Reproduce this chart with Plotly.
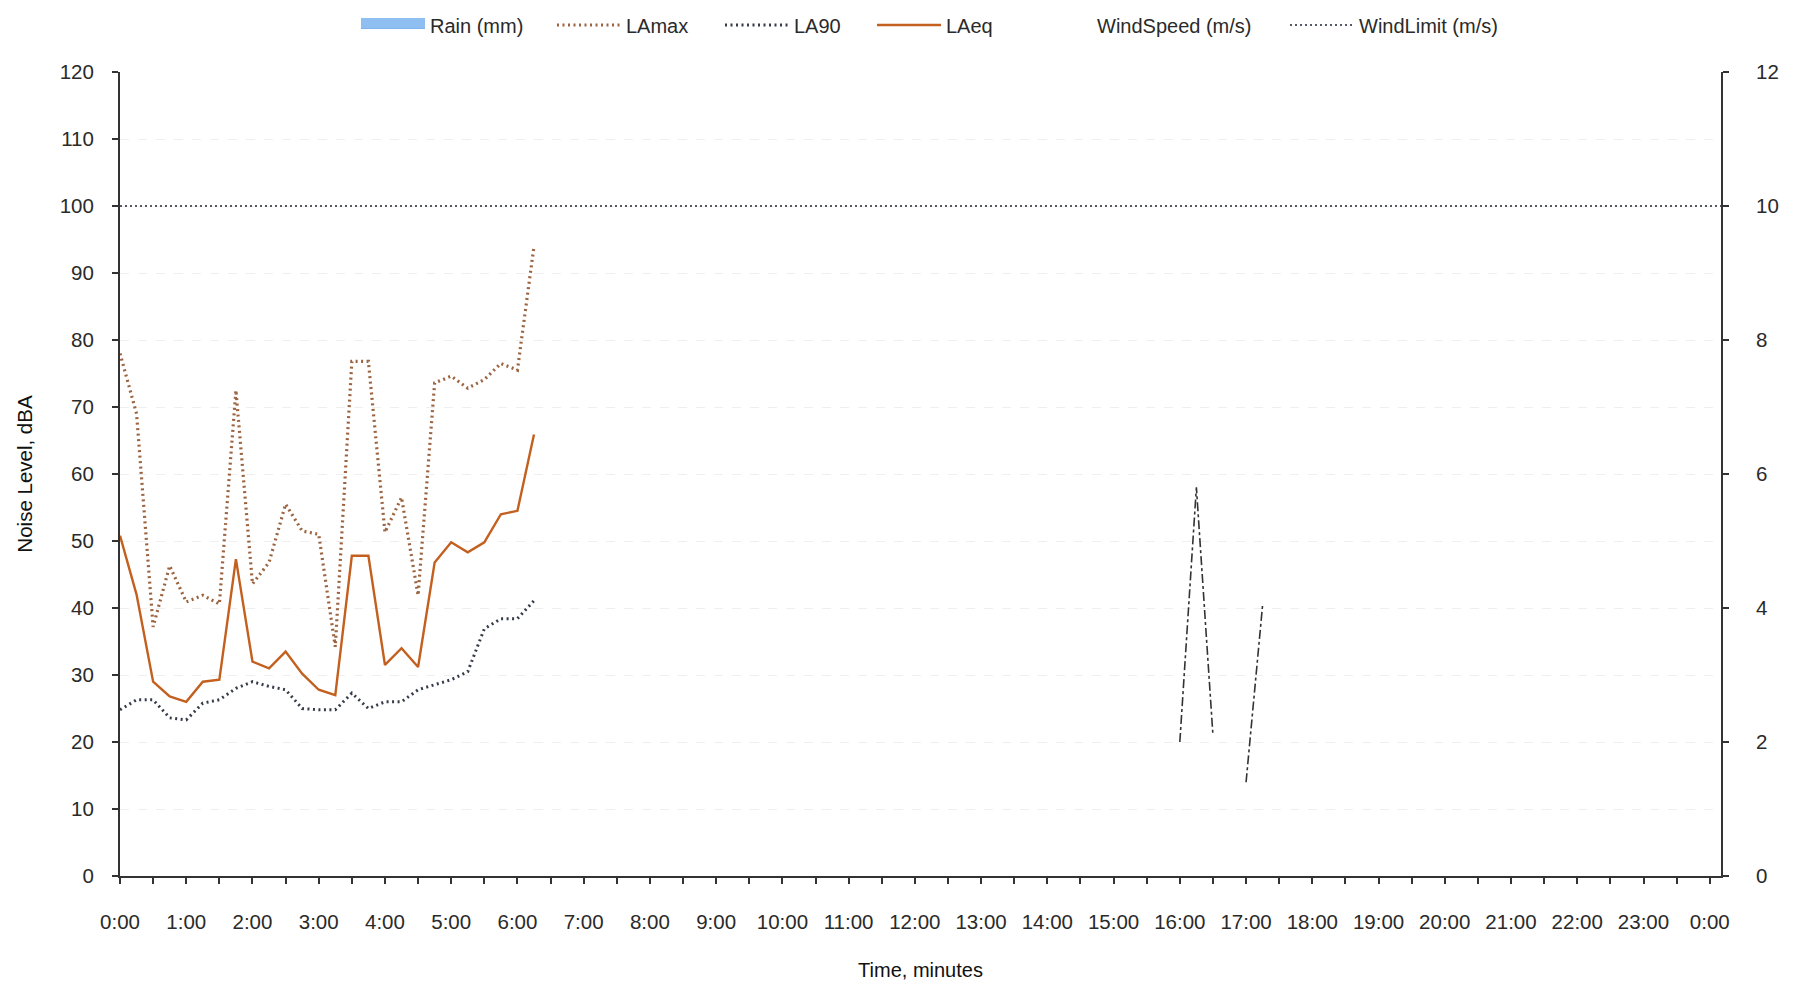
import plotly.graph_objects as go

# Sample times (m:ss) for the sound level meter readings
SAMPLE_TIMES = ["0:00", "0:15", "0:30", "0:45", "1:00", "1:15", "1:30", "1:45",
                "2:00", "2:15", "2:30", "2:45", "3:00", "3:15", "3:30", "3:45",
                "4:00", "4:15", "4:30", "4:45", "5:00", "5:15", "5:30", "5:45",
                "6:00", "6:15"]

# Noise levels, dBA
LAMAX = [78, 69, 37.2, 46.3, 40.9, 41.9, 40.6, 72.5, 43.6, 46.8, 55.5, 51.5, 51.0,
         34.2, 76.8, 76.8, 51.3, 56.5, 41.9, 73.6, 74.6, 72.8, 74.1, 76.5, 75.5, 94.0]
LA90 = [24.8, 26.3, 26.3, 23.6, 23.3, 25.8, 26.3, 28.0, 29.0, 28.3, 27.8, 25.0, 24.8,
        24.8, 27.3, 25.0, 26.0, 26.0, 27.8, 28.5, 29.3, 30.5, 36.9, 38.4, 38.4, 41.1]
LAEQ = [50.8, 42.0, 29.0, 26.8, 26.0, 29.0, 29.3, 47.3, 32.0, 31.0, 33.5, 30.2, 27.8,
        27.0, 47.8, 47.8, 31.5, 34.0, 31.2, 46.8, 49.8, 48.3, 49.8, 54.0, 54.5, 65.9]
RAIN = [0] * len(SAMPLE_TIMES)

# Wind readings (m/s); None marks a missing reading
WIND_TIMES = ["16:00", "16:15", "16:30", "16:45", "17:00", "17:15"]
WIND_SPEED = [2.0, 5.8, 2.1, None, 1.4, 4.05]
WIND_LIMIT = 10

# Axis labels
HOUR_LABELS = ["0:00", "1:00", "2:00", "3:00", "4:00", "5:00", "6:00", "7:00",
               "8:00", "9:00", "10:00", "11:00", "12:00", "13:00", "14:00", "15:00",
               "16:00", "17:00", "18:00", "19:00", "20:00", "21:00", "22:00",
               "23:00", "0:00"]


def to_minutes(s):
    m, sec = s.split(":")
    return int(m) + int(sec) / 60.0


t = [to_minutes(s) for s in SAMPLE_TIMES]
tw = [to_minutes(s) for s in WIND_TIMES]
X_RANGE = [0, 24.17]

FONT = "Liberation Sans, Arial, sans-serif"
TXT = "#2a2a2a"
AX = "#333333"
W, H = 1796, 993

fig = go.Figure()

# rainfall bars (right axis) plus a swatch entry for the key
fig.add_trace(go.Bar(x=t, y=RAIN, name="Rain (mm)", yaxis="y2", showlegend=False,
                     marker=dict(color="#7db3ee", line=dict(width=0))))
fig.add_trace(go.Scatter(x=[None], y=[None], name="Rain (mm)", mode="lines",
                         fill="toself", fillcolor="#7db3ee", legend="legend",
                         line=dict(color="#8fbef0", width=10)))
fig.add_trace(go.Scatter(x=t, y=LAMAX, name="LAmax", mode="lines", legend="legend2",
                         line=dict(color="#9c6340", width=3.2, dash="2px,3.5px")))
fig.add_trace(go.Scatter(x=t, y=LA90, name="LA90", mode="lines", legend="legend3",
                         line=dict(color="#353b48", width=3.0, dash="2px,3.5px")))
fig.add_trace(go.Scatter(x=t, y=LAEQ, name="LAeq", mode="lines", legend="legend4",
                         line=dict(color="#c4601f", width=2.4)))
fig.add_trace(go.Scatter(x=[None], y=[None], name="WindSpeed (m/s)", mode="lines",
                         yaxis="y2", legend="legend5",
                         line=dict(color="rgba(0,0,0,0)", width=1)))
fig.add_trace(go.Scatter(x=tw, y=WIND_SPEED, name="WindSpeed (m/s)", mode="lines",
                         yaxis="y2", showlegend=False, connectgaps=False,
                         line=dict(color="#333333", width=1.6, dash="dashdot")))
fig.add_trace(go.Scatter(x=X_RANGE, y=[WIND_LIMIT, WIND_LIMIT], name="WindLimit (m/s)",
                         mode="lines", yaxis="y2", legend="legend6",
                         line=dict(color="#555a66", width=1.8, dash="2px,3px")))

# one key entry per legend box, laid out along the top
KEY_X = {"legend": 356, "legend2": 552, "legend3": 720, "legend4": 872,
         "legend5": 1023, "legend6": 1285}


def key(xpx):
    return dict(orientation="h", xref="container", yref="container",
                x=xpx / W, y=1 - 25 / H, xanchor="left", yanchor="middle",
                font=dict(size=20, color=TXT), itemwidth=64,
                bgcolor="rgba(0,0,0,0)", borderwidth=0)


fig.update_layout(
    width=W, height=H,
    margin=dict(l=120, r=75, t=72, b=117),
    paper_bgcolor="white", plot_bgcolor="white",
    font=dict(family=FONT, size=20, color=TXT),
    showlegend=True,
    **{name: key(xpx) for name, xpx in KEY_X.items()},
    xaxis=dict(
        range=X_RANGE, tickmode="array",
        tickvals=list(range(len(HOUR_LABELS))), ticktext=HOUR_LABELS,
        ticks="outside", ticklen=6, tickwidth=1.5, tickcolor=AX,
        ticklabelstandoff=20,
        minor=dict(dtick=0.5, tick0=0, ticks="outside", ticklen=6,
                   tickwidth=1.5, tickcolor=AX, showgrid=False),
        showline=True, linecolor=AX, linewidth=2, showgrid=False, zeroline=False,
        title=dict(text="Time, minutes", standoff=31,
                   font=dict(size=20, color="#111111")),
        tickfont=dict(size=20.5),
    ),
    yaxis=dict(
        range=[0, 120], dtick=10, ticks="outside", ticklen=6, tickwidth=1.5,
        tickcolor=AX, ticklabelstandoff=14,
        showline=True, linecolor=AX, linewidth=2, zeroline=False,
        showgrid=True, gridcolor="#efefef", griddash="dash", gridwidth=1,
        title=dict(text="Noise Level, dBA", standoff=22,
                   font=dict(size=20.5, color="#111111")),
        tickfont=dict(size=20.5),
    ),
    yaxis2=dict(
        range=[0, 12], dtick=2, overlaying="y", side="right", anchor="x",
        ticks="outside", ticklen=6, tickwidth=1.5, tickcolor=AX,
        ticklabelstandoff=23,
        showline=True, linecolor=AX, linewidth=2, showgrid=False, zeroline=False,
        tickfont=dict(size=20.5),
    ),
    bargap=0.2,
)

fig.write_html("out.html")
